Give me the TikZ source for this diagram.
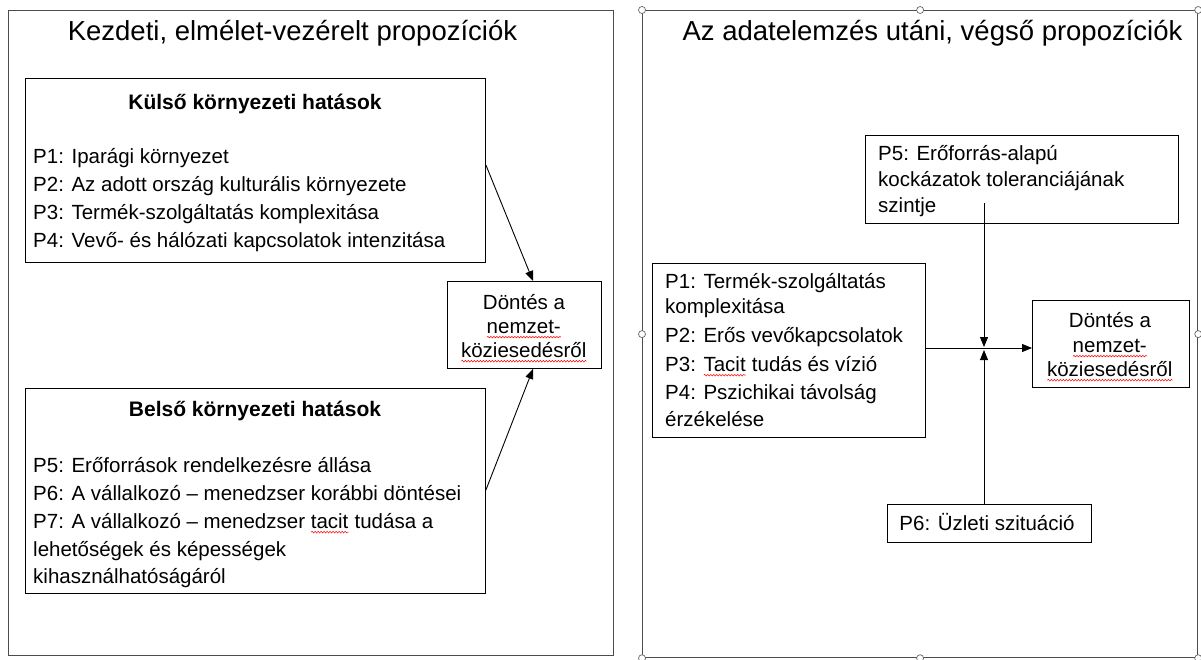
\documentclass[tikz,border=0pt]{standalone}
\usepackage{fontspec}
\setmainfont{Liberation Sans}
\usetikzlibrary{arrows.meta,calc,decorations.pathmorphing}

% red wavy underline for flagged words
\newsavebox\spellbox
\newcommand\spell[1]{\sbox\spellbox{#1}\leavevmode\rlap{\usebox\spellbox}%
  \raisebox{-3.5pt}{\tikz[baseline=0pt]\draw[red,line width=0.5pt,decorate,
    decoration={snake,amplitude=0.8pt,segment length=3pt}] (0pt,0pt) -- (\wd\spellbox,0pt);}}

\begin{document}
\begin{tikzpicture}[x=1pt,y=-1pt,
  panel/.style={draw=black!70,line width=1.2pt,rectangle,inner sep=0pt,anchor=north west},
  box/.style={draw=black,line width=0.9pt,rectangle,inner sep=0pt,anchor=north west},
  txt/.style={font=\fontsize{20.5}{24}\selectfont,inner sep=0pt,anchor=mid west},
  ctxt/.style={font=\fontsize{20.5}{24}\selectfont,inner sep=0pt,anchor=mid},
  head/.style={font=\fontsize{21}{25}\selectfont\bfseries,inner sep=0pt,anchor=mid},
  ttl/.style={font=\fontsize{27.5}{32}\selectfont,inner sep=0pt,anchor=mid},
  arr/.style={-{Triangle[length=10pt,width=8pt]},line width=0.9pt},
  handle/.style={circle,draw=black!60,fill=white,line width=0.7pt,inner sep=0pt,minimum size=7pt}
]
\useasboundingbox (0,0) rectangle (1201,659);
\fill[white] (0,0) rectangle (1201,659);

% ---------- left panel ----------
\node[panel,minimum width=605,minimum height=645] (lp) at (8,10) {};
\node[ttl] (ltitle) at (292.5,38) {Kezdeti, elmélet-vezérelt propozíciók};

\node[box,minimum width=460,minimum height=184] (kulso) at (25,78) {};
\node[head] (kulsoh) at (255,107) {Külső környezeti hatások};
\node[txt] (k1) at (33,161) {P1: Iparági környezet};
\node[txt] (k2) at (33,189) {P2: Az adott ország kulturális környezete};
\node[txt] (k3) at (33,217) {P3: Termék-szolgáltatás komplexitása};
\node[txt] (k4) at (33,245) {P4: Vevő- és hálózati kapcsolatok intenzitása};

\node[box,minimum width=460,minimum height=205] (belso) at (25,388) {};
\node[head] (belsoh) at (255,414) {Belső környezeti hatások};
\node[txt] (b5) at (33,470) {P5: Erőforrások rendelkezésre állása};
\node[txt] (b6) at (33,498) {P6: A vállalkozó – menedzser korábbi döntései};
\node[txt] (b7) at (33,526) {P7: A vállalkozó – menedzser \spell{tacit} tudása a};
\node[txt] (b7b) at (33,554) {lehetőségek és képességek};
\node[txt] (b7c) at (33,581) {kihasználhatóságáról};

\node[box,minimum width=154,minimum height=87] (dL) at (447,281) {};
\node[ctxt] (dL1) at (524,307) {Döntés a};
\node[ctxt] (dL2) at (524,331) {\spell{nemzet-}};
\node[ctxt] (dL3) at (524,355) {\spell{köziesedésről}};

\draw[arr] ($(kulso.north east)+(0,87)$) -- ($(dL.north west)+(86,0)$);
\draw[arr] ($(belso.north east)+(0,102)$) -- ($(dL.south west)+(86,0)$);

% ---------- right panel ----------
\node[panel,minimum width=555,minimum height=647] (rp) at (642,10) {};
\node[ttl] (rtitle) at (932.5,38) {Az adatelemzés utáni, végső propozíciók};

\node[box,minimum width=313,minimum height=88] (p5) at (865,135) {};
\node[txt] (p5a) at (878,158) {P5: Erőforrás-alapú};
\node[txt] (p5b) at (878,184) {kockázatok toleranciájának};
\node[txt] (p5c) at (878,210) {szintje};

\node[box,minimum width=273,minimum height=174] (p14) at (652,263) {};
\node[txt] (r1) at (665,286) {P1: Termék-szolgáltatás};
\node[txt] (r1b) at (665,311) {komplexitása};
\node[txt] (r2) at (665,340) {P2: Erős vevőkapcsolatok};
\node[txt] (r3) at (665,369) {P3: \spell{Tacit} tudás és vízió};
\node[txt] (r4) at (665,397) {P4: Pszichikai távolság};
\node[txt] (r4b) at (665,424) {érzékelése};

\node[box,minimum width=157,minimum height=87] (dR) at (1032,300) {};
\node[ctxt] (dR1) at (1110,325) {Döntés a};
\node[ctxt] (dR2) at (1110,350) {\spell{nemzet-}};
\node[ctxt] (dR3) at (1110,374) {\spell{köziesedésről}};

\node[box,minimum width=204,minimum height=38] (p6) at (887,504) {};
\node[txt,anchor=mid] (p6t) at (987,528) {P6: Üzleti szituáció};

\coordinate (j) at (984,348);
\coordinate (t) at (984,203);
\draw[arr] (p14.east |- j) -- (dR.west |- j);
\draw[arr] (t) -- ($(j)+(0,-1)$);
\draw[arr] (p6.north -| j) -- ($(j)+(0,2)$);

% selection handles of the right frame
\foreach \a in {north west,north,north east,west,east,south west,south,south east}
  \node[handle] at (rp.\a) {};
\end{tikzpicture}
\end{document}
